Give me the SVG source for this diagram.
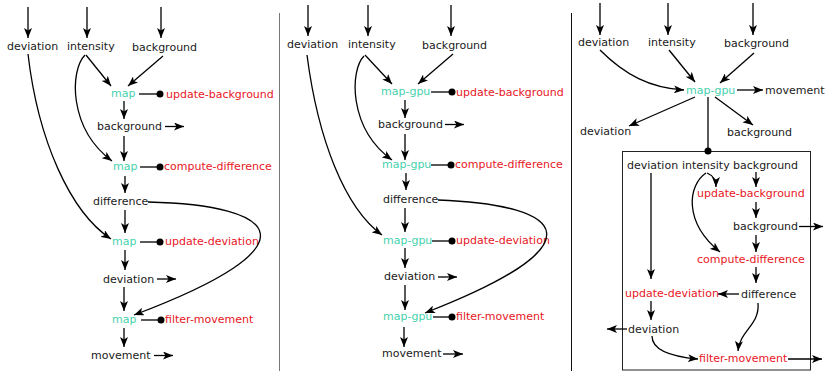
<svg xmlns="http://www.w3.org/2000/svg" width="826" height="371" viewBox="0 0 826 371">
<style>
text{font-family:"DejaVu Sans","Liberation Sans",sans-serif;font-size:11px;fill:#1a1a1a}
text.op{fill:#45d1ac}
text.fn{fill:#e8161e}
.c path,.c line{fill:none;stroke:#000;stroke-width:1.3}
.a{marker-end:url(#ah)}
</style>
<defs>
<marker id="ah" markerUnits="userSpaceOnUse" markerWidth="11" markerHeight="8" refX="10" refY="4" orient="auto"><path d="M0,0 L10,4 L0,8 L2.5,4 z" fill="#000"/></marker>
</defs>
<rect width="826" height="371" fill="#fff"/>
<line x1="279.5" y1="13" x2="279.5" y2="371" stroke="#777" stroke-width="1"/>
<line x1="571.5" y1="13" x2="571.5" y2="371" stroke="#111" stroke-width="1"/>

<!-- Panel 1 nodes -->
<g id="p1-deviation-in"><text x="7" y="50">deviation</text></g>
<g id="p1-intensity-in"><text x="67" y="50">intensity</text></g>
<g id="p1-background-in"><text x="132" y="51">background</text></g>
<g id="p1-map1"><text class="op" x="111" y="97">map</text></g>
<g id="p1-update-background"><circle cx="160" cy="94" r="3.5"/><text class="fn" x="166" y="98">update-background</text></g>
<g id="p1-background"><text x="97" y="130">background</text></g>
<g id="p1-map2"><text class="op" x="113" y="170">map</text></g>
<g id="p1-compute-difference"><circle cx="160" cy="167" r="3.5"/><text class="fn" x="164" y="170">compute-difference</text></g>
<g id="p1-difference"><text x="93" y="205">difference</text></g>
<g id="p1-map3"><text class="op" x="112" y="245">map</text></g>
<g id="p1-update-deviation"><circle cx="160" cy="242" r="3.5"/><text class="fn" x="165" y="245">update-deviation</text></g>
<g id="p1-deviation"><text x="103" y="283">deviation</text></g>
<g id="p1-map4"><text class="op" x="112" y="323">map</text></g>
<g id="p1-filter-movement"><circle cx="161" cy="320" r="3.5"/><text class="fn" x="165" y="323">filter-movement</text></g>
<g id="p1-movement"><text x="91" y="359">movement</text></g>

<!-- Panel 2 nodes -->
<g id="p2-deviation-in"><text x="287" y="48">deviation</text></g>
<g id="p2-intensity-in"><text x="348" y="48">intensity</text></g>
<g id="p2-background-in"><text x="422" y="49">background</text></g>
<g id="p2-map1"><text class="op" x="381" y="95">map-gpu</text></g>
<g id="p2-update-background"><circle cx="452" cy="92" r="3.5"/><text class="fn" x="456" y="96">update-background</text></g>
<g id="p2-background"><text x="378" y="128">background</text></g>
<g id="p2-map2"><text class="op" x="382" y="168">map-gpu</text></g>
<g id="p2-compute-difference"><circle cx="451" cy="165" r="3.5"/><text class="fn" x="455" y="168">compute-difference</text></g>
<g id="p2-difference"><text x="383" y="203">difference</text></g>
<g id="p2-map3"><text class="op" x="383" y="244">map-gpu</text></g>
<g id="p2-update-deviation"><circle cx="452" cy="241" r="3.5"/><text class="fn" x="456" y="244">update-deviation</text></g>
<g id="p2-deviation"><text x="384" y="280">deviation</text></g>
<g id="p2-map4"><text class="op" x="383" y="320">map-gpu</text></g>
<g id="p2-filter-movement"><circle cx="452" cy="317" r="3.5"/><text class="fn" x="456" y="320">filter-movement</text></g>
<g id="p2-movement"><text x="382" y="357">movement</text></g>

<!-- Panel 3 nodes -->
<g id="p3-deviation-in"><text x="578" y="46">deviation</text></g>
<g id="p3-intensity-in"><text x="648" y="46">intensity</text></g>
<g id="p3-background-in"><text x="724" y="47">background</text></g>
<g id="p3-map"><text class="op" x="686" y="94">map-gpu</text></g>
<g id="p3-movement-out"><text x="765" y="94">movement</text></g>
<g id="p3-deviation-out"><text x="580" y="135">deviation</text></g>
<g id="p3-background-out"><text x="727" y="136">background</text></g>
<g id="p3-kernel">
<rect x="622.5" y="151.5" width="188" height="218.5" fill="none" stroke="#222" stroke-width="1"/>
<circle cx="708" cy="151" r="3.5"/>
<text x="627" y="169">deviation</text>
<text x="682" y="169">intensity</text>
<text x="733" y="169">background</text>
<text class="fn" x="697" y="197">update-background</text>
<text x="733" y="230">background</text>
<text class="fn" x="697" y="263">compute-difference</text>
<text x="741" y="298">difference</text>
<text class="fn" x="625" y="297">update-deviation</text>
<text x="628" y="333">deviation</text>
<text class="fn" x="699" y="362">filter-movement</text>
</g>

<!-- Connectors -->
<g id="connectors" class="c">
<!-- panel 1 -->
<line class="a" x1="28" y1="7" x2="28" y2="38"/>
<line class="a" x1="87" y1="7" x2="87" y2="38"/>
<line class="a" x1="161" y1="7" x2="161" y2="38"/>
<line class="a" x1="86" y1="55" x2="111" y2="86"/>
<line class="a" x1="163" y1="56" x2="128" y2="86"/>
<line x1="139" y1="94" x2="158" y2="94"/>
<line class="a" x1="124" y1="101" x2="124" y2="119"/>
<line class="a" x1="165" y1="126.5" x2="184" y2="126.5"/>
<line class="a" x1="124" y1="136" x2="124" y2="161"/>
<path class="a" d="M85 55 C70 70 68 128 112 161"/>
<line x1="140" y1="167" x2="158" y2="167"/>
<line class="a" x1="125" y1="176" x2="125" y2="193"/>
<line class="a" x1="125" y1="210" x2="125" y2="233"/>
<path class="a" d="M28 54 C38 140 70 212 111 239"/>
<path class="a" d="M148 202 C280 205 320 245 134 315"/>
<line x1="140" y1="242" x2="158" y2="242"/>
<line class="a" x1="125" y1="250" x2="125" y2="270"/>
<line class="a" x1="157" y1="279" x2="176" y2="279"/>
<line class="a" x1="124" y1="287" x2="124" y2="311"/>
<line x1="141" y1="320" x2="159" y2="320"/>
<line class="a" x1="124" y1="328" x2="124" y2="347"/>
<line class="a" x1="154" y1="355.5" x2="173" y2="355.5"/>
<!-- panel 2 -->
<line class="a" x1="308" y1="5" x2="308" y2="36"/>
<line class="a" x1="368" y1="5" x2="368" y2="36"/>
<line class="a" x1="451" y1="5" x2="451" y2="36"/>
<line class="a" x1="365" y1="55" x2="392" y2="84"/>
<line class="a" x1="453" y1="54" x2="418" y2="84"/>
<line x1="431" y1="92" x2="450" y2="92"/>
<line class="a" x1="405" y1="100" x2="405" y2="118"/>
<line class="a" x1="445" y1="124.5" x2="464" y2="124.5"/>
<line class="a" x1="405" y1="134" x2="405" y2="160"/>
<path class="a" d="M364 56 C350 70 348 128 392 160"/>
<line x1="431" y1="165" x2="449" y2="165"/>
<line class="a" x1="406" y1="173" x2="406" y2="190"/>
<line class="a" x1="405" y1="208" x2="405" y2="232"/>
<path class="a" d="M307 55 C318 140 345 208 382 235"/>
<path class="a" d="M438 200 C570 205 600 245 425 313"/>
<line x1="432" y1="241" x2="450" y2="241"/>
<line class="a" x1="405" y1="248" x2="405" y2="268"/>
<line class="a" x1="438" y1="277" x2="457" y2="277"/>
<line class="a" x1="405" y1="285" x2="405" y2="310"/>
<line x1="433" y1="317" x2="450" y2="317"/>
<line class="a" x1="404" y1="327" x2="404" y2="347"/>
<line class="a" x1="443" y1="354" x2="463" y2="354"/>
<!-- panel 3 -->
<line class="a" x1="600" y1="3" x2="600" y2="35"/>
<line class="a" x1="668" y1="3" x2="668" y2="35"/>
<line class="a" x1="753" y1="3" x2="753" y2="35"/>
<path class="a" d="M600 50 C625 75 650 88 684 90"/>
<line class="a" x1="669" y1="50" x2="695" y2="82"/>
<line class="a" x1="754" y1="53" x2="720" y2="83"/>
<line class="a" x1="737" y1="90" x2="763" y2="90"/>
<line class="a" x1="695" y1="97" x2="629" y2="126"/>
<line class="a" x1="715" y1="97" x2="753" y2="125"/>
<line x1="708" y1="97" x2="708" y2="149"/>
<line class="a" x1="651" y1="173" x2="651" y2="279"/>
<path class="a" d="M707 173 C712 175 716 180 716 187"/>
<path class="a" d="M706 173 C688 185 683 222 720 252"/>
<line class="a" x1="756" y1="172" x2="756" y2="187"/>
<line class="a" x1="756" y1="202" x2="756" y2="218"/>
<line class="a" x1="799" y1="226.5" x2="823" y2="226.5"/>
<line class="a" x1="756" y1="235" x2="756" y2="252"/>
<line class="a" x1="756" y1="267" x2="756" y2="283"/>
<line class="a" x1="739" y1="294" x2="718" y2="294"/>
<line class="a" x1="651" y1="301" x2="651" y2="320"/>
<line class="a" x1="627" y1="329" x2="607" y2="329"/>
<path class="a" d="M652 336 C652 352 675 357 698 359"/>
<path class="a" d="M758 303 C760 325 740 330 738 351"/>
<line class="a" x1="788" y1="359" x2="822" y2="359"/>
</g>
</svg>
